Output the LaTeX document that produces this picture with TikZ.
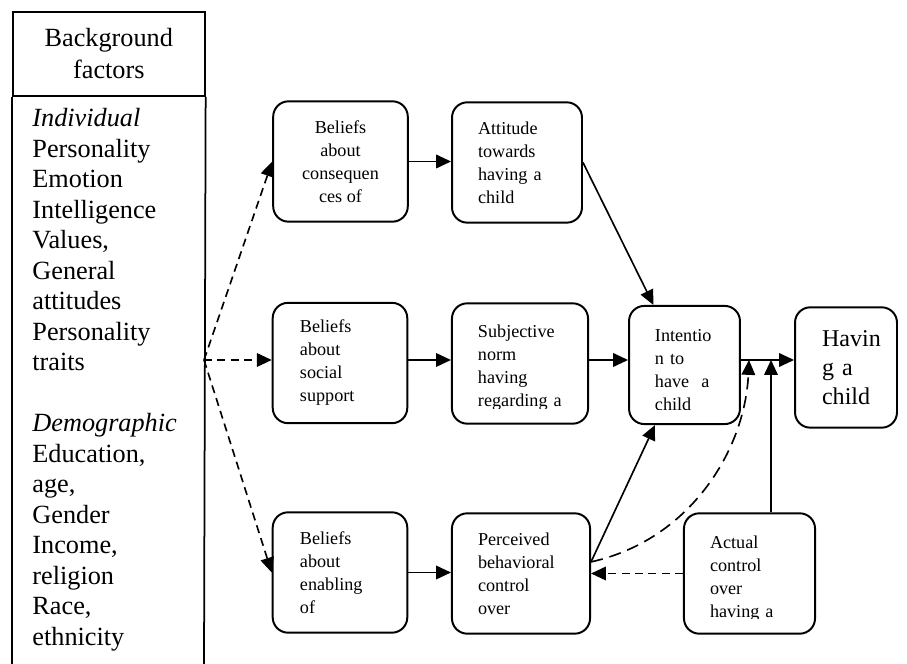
\documentclass[tikz,border=0pt]{standalone}
\usepackage{fontspec}
\setmainfont{Liberation Serif}
\usetikzlibrary{arrows.meta}

\begin{document}
\begin{tikzpicture}[
    x=0.457pt, y=-0.457pt,
    >={Triangle[length=6.8pt,width=6.2pt]},
    stage/.style={draw, line width=0.9pt, rounded corners=7pt, minimum width=61.5pt,
        minimum height=55pt, inner sep=1pt, align=left,
        font=\fontsize{8.3}{10.5}\selectfont},
    stagetext/.style={inner sep=1pt, align=left, font=\fontsize{8.3}{10.5}\selectfont},
    link/.style={line width=0.75pt, ->},
    dlink/.style={link, dash pattern=on 3.7pt off 2.4pt}
]

    \useasboundingbox (0,0) rectangle (907,664);

    % --- Background factors column ---
    \node[draw, line width=0.8pt, anchor=north west, minimum width=87.7pt, minimum height=38.4pt,
          inner sep=0pt, align=center, font=\fontsize{12}{14.5}\selectfont] (head) at (12,11)
          {Background\\factors};
    \draw[line width=0.8pt] (head.south west) -- (12,664);
    \draw[line width=0.8pt] (head.south east) -- (204,664);
    \node[anchor=north west, inner sep=0pt, align=left, font=\fontsize{12}{13.94}\selectfont]
          (factors) at (32,108)
          {\textit{Individual}\\Personality\\Emotion\\Intelligence\\Values,\\General\\attitudes\\%
           Personality\\traits\\[13.94pt]\textit{Demographic}\\Education,\\age,\\Gender\\%
           Income,\\religion\\Race,\\ethnicity};
    \coordinate (src) at (204,360);

    % --- Beliefs, attitudes and control ---
    \node[stage, align=center] (conseq) at (340.5,161.5) {Beliefs\\about\\consequen\\ces of};
    \node[stage, text width=35.6pt, minimum width=59.4pt] (attitude) at (517,162.5)
          {Attitude\\towards\\having a\\child};
    \node[stage, text width=36.6pt] (social) at (340,363) {Beliefs\\about\\social\\support};
    \node[stage, minimum width=62.2pt] (norm) at (520,363.5) {};
    \node[stage, minimum width=50.7pt, minimum height=54pt] (intent) at (684.5,365) {};
    \node[stage, minimum width=46.6pt, text width=21.9pt, font=\fontsize{11}{13.2}\selectfont]
          (having) at (846,367.5) {Havin\\g a\\child};
    \node[stage, text width=36.6pt] (enabling) at (340,572.5) {Beliefs\\about\\enabling\\of};
    \node[stage, text width=39.3pt, minimum width=63.1pt] (pbc) at (521,573.5)
          {Perceived\\behavioral\\control\\over};
    \node[stage, minimum width=59.9pt] (actual) at (749.5,573.5) {};

    % --- Texts cut off at the bottom of their boxes ---
    \begin{scope}
        \clip (norm.north west) rectangle ([yshift=7.4pt]norm.south east);
        \node[stagetext, text width=38.4pt] at ([yshift=-2pt]norm.center)
              {Subjective\\norm\\having\\regarding a};
    \end{scope}
    \begin{scope}
        \clip (intent.north west) rectangle ([yshift=7pt]intent.south east);
        \node[stagetext, text width=27pt] at ([yshift=-2.3pt]intent.center)
              {Intentio\\n to\\have\ \ a\\child};
    \end{scope}
    \begin{scope}
        \clip (actual.north west) rectangle ([yshift=7.4pt]actual.south east);
        \node[stagetext, text width=36.1pt] at ([yshift=-2.3pt]actual.center)
              {Actual\\control\\over\\having a};
    \end{scope}

    % --- Connectors ---
    \coordinate (joinA) at (749,360);
    \coordinate (joinB) at (771,360);

    \draw[dlink] (src) -- (conseq.west);
    \draw[dlink] (src) -- (social.west |- src);
    \draw[dlink] (src) -- (enabling.west);

    \draw[link] (conseq.east) -- (conseq.east -| attitude.west);
    \draw[link] (social.east |- src) -- (norm.west |- src);
    \draw[link] (norm.east |- src) -- (intent.west |- src);
    \draw[link] (enabling.east) -- (enabling.east -| pbc.west);

    \draw[link] (attitude.east) -- ([xshift=-14.2pt]intent.north);
    \draw[link] ([yshift=5.3pt]pbc.east) -- ([xshift=-13.5pt]intent.south);
    \draw[link] (intent.east |- src) -- (having.west |- src);

    \draw[dlink, dash pattern=on 5.5pt off 3.2pt] ([yshift=5.3pt]pbc.east)
          .. controls (690,540) and (745,450) .. (joinA);
    \draw[link] (joinB |- actual.north) -- (joinB);
    \draw[dlink] (actual.west) -- (pbc.east);

\end{tikzpicture}
\end{document}
